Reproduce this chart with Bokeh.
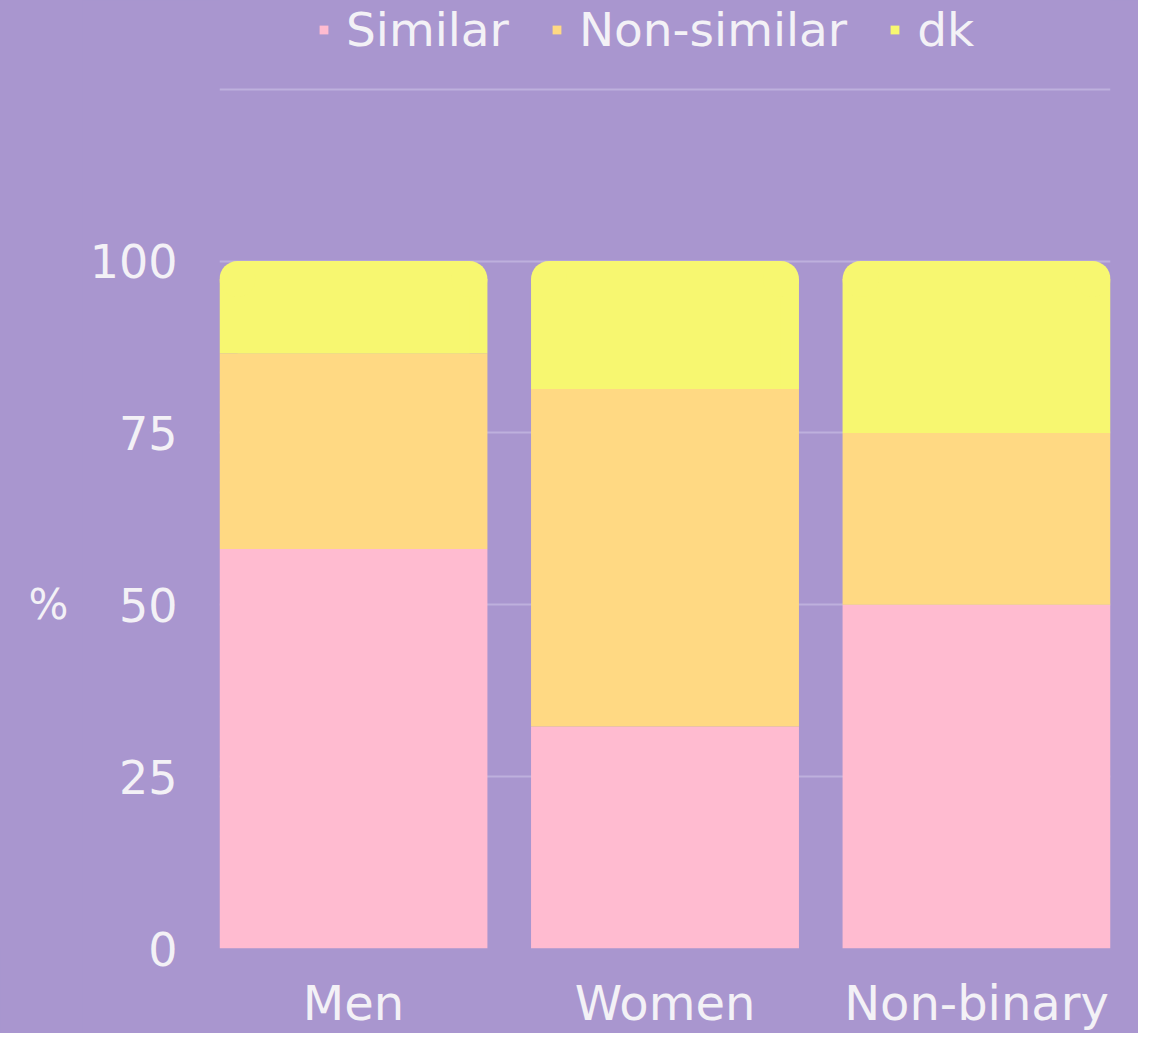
from bokeh.plotting import figure
from bokeh.models import FactorRange, Range1d, FixedTicker, Legend, LegendItem, ColumnDataSource
from bokeh.transform import dodge
from bokeh.layouts import row
from bokeh.core.properties import value
from bokeh.embed import file_html
from bokeh.resources import INLINE

categories = ["Men", "Women", "Non-binary"]
similar = [58.1, 32.3, 50.0]
non_similar = [28.5, 49.1, 25.0]
dk = [13.4, 18.6, 25.0]
series_names = ["Similar", "Non-similar", "dk"]
y_ticks = [0, 25, 50, 75, 100]
grid_ticks = [0, 25, 50, 75, 100, 125]
y_title = "%"

BG = "#A996CF"
TXT = "#F3F1F6"
COLORS = ["#FFBBD0", "#FFD983", "#F7F770"]
FONT = "DejaVu Sans"

W, H = 1138, 1033
LW = 82                      # width of the strip holding the y title
BL, BR, BT, BB = 219 - LW, 28, 0, 84
frame_w = W - LW - BL - BR
frame_h = H - BT - BB
y_end = 137.9
px_per_y = frame_h / y_end
x_pad = -0.07               # per side, in category units
px_per_x = frame_w / (len(categories) + 2 * x_pad)

bar_w = 0.86
r_px = 18
rx = r_px / px_per_x
ry = r_px / px_per_y

lower = [a + b for a, b in zip(similar, non_similar)]
total = [a + b + c for a, b, c in zip(similar, non_similar, dk)]

src = ColumnDataSource(dict(
    cat=categories, Similar=similar, **{"Non-similar": non_similar},
    lower=lower, total=total,
    top_main=[t - ry for t in total],
))

xr = FactorRange(*categories, range_padding=2 * x_pad / len(categories),
                 range_padding_units="percent")
p = figure(x_range=xr, y_range=Range1d(0, y_end),
           width=W - LW, height=H, output_backend="svg", toolbar_location=None,
           min_border_left=BL, min_border_right=BR, min_border_top=BT, min_border_bottom=BB)
p.background_fill_color = BG
p.border_fill_color = BG
p.outline_line_color = None
p.styles = {"background-color": BG}

rs = p.vbar_stack(["Similar", "Non-similar"], x="cat", width=bar_w, source=src,
                  color=COLORS[:2], line_color=None)
r_dk = p.vbar(x="cat", bottom="lower", top="top_main", width=bar_w, source=src,
              fill_color=COLORS[2], line_color=None)
p.vbar(x="cat", bottom="lower", top="total", width=bar_w - 2 * rx, source=src,
       fill_color=COLORS[2], line_color=None)
for off in (-(bar_w / 2 - rx), bar_w / 2 - rx):
    p.scatter(x=dodge("cat", off, range=p.x_range), y="top_main", source=src,
              marker="circle", size=2 * r_px, fill_color=COLORS[2], line_color=None)

# axes
p.xaxis.axis_line_color = None
p.xaxis.major_tick_line_color = None
p.xaxis.minor_tick_line_color = None
p.xaxis.major_label_text_font = FONT
p.xaxis.major_label_text_font_size = "48px"
p.xaxis.major_label_text_color = TXT
p.xaxis.major_label_standoff = 20

p.yaxis.ticker = FixedTicker(ticks=y_ticks)
p.yaxis.axis_line_color = None
p.yaxis.major_tick_line_color = None
p.yaxis.minor_tick_line_color = None
p.yaxis.major_label_text_font = FONT
p.yaxis.major_label_text_font_size = "46px"
p.yaxis.major_label_text_color = TXT
p.yaxis.major_label_standoff = 36

p.xgrid.grid_line_color = None
p.ygrid.ticker = FixedTicker(ticks=grid_ticks)
p.ygrid.grid_line_color = "#BEB0DD"
p.ygrid.grid_line_width = 2

legend = Legend(items=[LegendItem(label=series_names[0], renderers=[rs[0]]),
                       LegendItem(label=series_names[1], renderers=[rs[1]]),
                       LegendItem(label=series_names[2], renderers=[r_dk])],
                orientation="horizontal", location=(99, frame_h - 58))
legend.background_fill_alpha = 0
legend.border_line_color = None
legend.label_text_font = FONT
legend.label_text_font_size = "47px"
legend.label_text_color = TXT
legend.glyph_width = 11
legend.glyph_height = 11
legend.label_standoff = 17
legend.spacing = 42
legend.padding = 0
legend.margin = 0
legend.label_height = 44
p.add_layout(legend)

# strip on the left holding the horizontal y-axis title, centred on the tick span
t = figure(x_range=Range1d(0, LW), y_range=Range1d(0, y_end), width=LW, height=H,
           output_backend="svg", toolbar_location=None,
           x_axis_location=None, y_axis_location=None,
           min_border_left=0, min_border_right=0, min_border_top=BT, min_border_bottom=BB)
t.background_fill_color = BG
t.border_fill_color = BG
t.outline_line_color = None
t.styles = {"background-color": BG}
t.xgrid.visible = False
t.ygrid.visible = False
t.text(x=[48], y=[(y_ticks[0] + y_ticks[-1]) / 2], text=[y_title],
       text_align="center", text_baseline="middle",
       text_font=value(FONT), text_font_size="42px", text_color=TXT)

layout = row(t, p, spacing=0)
open("out.html", "w").write(file_html(layout, INLINE))
